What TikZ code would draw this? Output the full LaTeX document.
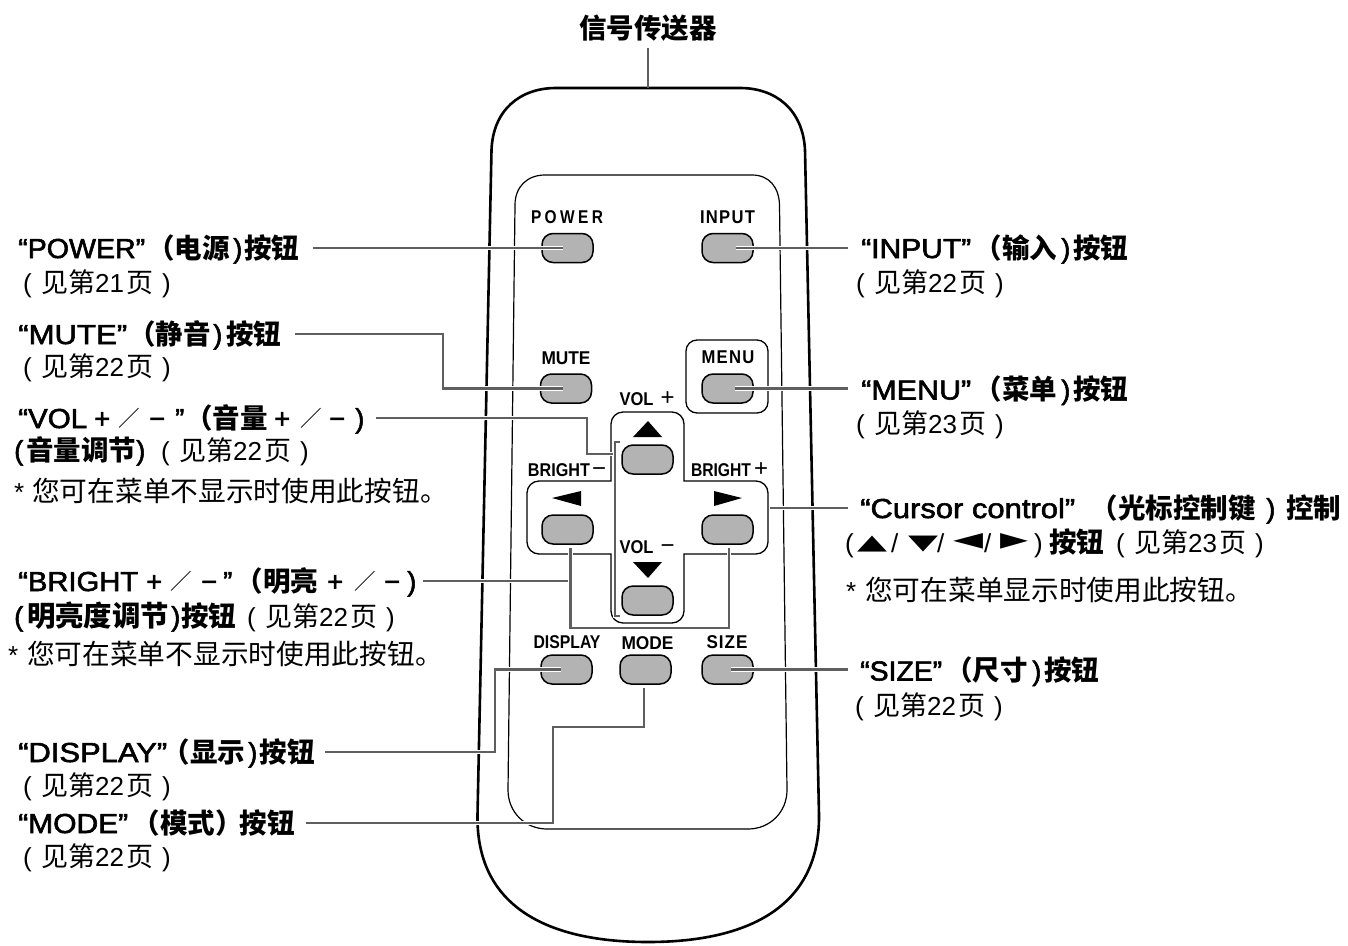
\documentclass[tikz,border=0pt]{standalone}
\usepackage{fontspec}
\setmainfont{Liberation Sans}
\newfontfamily\cjkfont{Noto Sans CJK SC}
\newfontfamily\latmed[FakeBold=2]{Liberation Sans}
\newfontfamily\latreg{Liberation Sans}
\newfontfamily\symfont{DejaVu Sans}
\newcommand{\CjB}[1]{{\cjkfont\bfseries\fontsize{27.5}{30}\selectfont #1}}
\newcommand{\CjBw}[1]{{\cjkfont\bfseries\fontsize{28.4}{30}\selectfont #1}}
\newcommand{\CjR}[1]{{\cjkfont\fontsize{27}{30}\selectfont #1}}
\newcommand{\CjN}[1]{{\cjkfont\fontsize{27.7}{30}\selectfont #1}}
\newcommand{\LtM}[1]{{\latmed\fontsize{27.5}{30}\selectfont #1}}
\newcommand{\LtR}[1]{{\latreg\fontsize{26}{30}\selectfont #1}}
\newcommand{\FitW}[2]{\resizebox{#1pt}{\height}{#2}}
\newcommand{\At}[2]{\hspace*{#1pt}\rlap{#2}\hspace*{-#1pt}}
\newcommand{\Lay}[2]{\makebox[#1pt][l]{#2}}
\newcommand{\SyT}[3]{\raisebox{#2pt}{\resizebox*{#1pt}{16pt}{{\symfont\fontsize{26}{30}\selectfont #3}}}}
\newcommand{\PgRef}[1]{\Lay{146}{\At{0}{\LtR{(}}\At{18}{\CjR{见第}}\At{72}{\LtR{#1}}\At{103}{\CjR{页}}\At{139}{\LtR{)}}}}
\newcommand{\Minus}{\LtM{−}}
\newcommand{\Plus}{\LtM{+}}
\newcommand{\Slash}{\raisebox{1.5pt}{\scalebox{0.8}{\CjR{／}}}}
\definecolor{btngray}{HTML}{B3B3B3}
\definecolor{leadgray}{HTML}{5F5F5F}
\tikzset{
  body/.style={draw=black,line width=2.6pt},
  panel/.style={draw=black,line width=1.2pt},
  frame/.style={draw=black,line width=1.3pt},
  btn/.style={draw=black,fill=btngray,line width=1.5pt,rectangle,rounded corners=11pt,minimum width=51pt,minimum height=29pt,inner sep=0pt},
  tri/.style={fill=black,draw=none},
  lbl/.style={anchor=west,inner sep=0pt,text height=24pt,text depth=4pt},
  keytxt/.style={inner sep=0pt,font=\bfseries\fontsize{18.5}{20}\selectfont},
  leader/.style={draw=leadgray,line width=2.5pt,line join=miter,preaction={draw=white,line width=4.5pt,line cap=square}},
  thinlead/.style={draw=leadgray,line width=2.6pt}
}
\begin{document}
\begin{tikzpicture}[x=1pt,y=-1pt]
\useasboundingbox[fill=white] (0,0) rectangle (1348,945);
% remote body
\draw[body] (491.5,150) .. controls (493,110) and (520,88) .. (556,88) -- (740,88)
  .. controls (776,88) and (803,110) .. (805,150) -- (819,815)
  .. controls (820,905) and (751,942) .. (648,942)
  .. controls (545,942) and (476,905) .. (477.5,815) -- cycle;
% inner panel
\draw[panel] (515,205) .. controls (515,187) and (527,175) .. (545,175) -- (752,175)
  .. controls (769,175) and (779,187) .. (779.5,205) -- (787,790)
  .. controls (787,812) and (770,829) .. (748,829) -- (547,829)
  .. controls (525,829) and (508,812) .. (508,790) -- cycle;
% frames
\draw[frame,rounded corners=11pt] (686,340) rectangle (768,413);
\draw[frame] (611,481) [rounded corners=12pt] -- (611,412) -- (684,412) [sharp corners] -- (684,481)
  [rounded corners=12pt] -- (768,481) -- (768,554) [sharp corners] -- (684,554)
  [rounded corners=12pt] -- (684,623) -- (611,623) [sharp corners] -- (611,554)
  [rounded corners=12pt] -- (527,554) -- (527,481) [sharp corners] -- cycle;
% buttons
\node[btn] (bPower) at (567.5,248) {};
\node[btn] (bInput) at (727.5,248) {};
\node[btn] (bMute) at (566,388.5) {};
\node[btn] (bMenu) at (727.5,388.5) {};
\node[btn] (bVolUp) at (647.5,459.5) {};
\node[btn] (bLeft) at (567.5,529.5) {};
\node[btn] (bRight) at (727.5,529.5) {};
\node[btn] (bVolDn) at (647.5,600.5) {};
\node[btn] (bDisplay) at (566.5,669.5) {};
\node[btn] (bMode) at (645.5,669.5) {};
\node[btn] (bSize) at (727.5,669.5) {};
% triangles
\fill[tri] (633,437) -- (662,437) -- (648,421) -- cycle;
\fill[tri] (552,498) -- (581,491) -- (581,506) -- cycle;
\fill[tri] (714,491) -- (714,506) -- (742,498) -- cycle;
\fill[tri] (633,562) -- (662,562) -- (648,578) -- cycle;
% key legends
\node[keytxt] (kPower) at (567,217) {\FitW{72}{\addfontfeature{LetterSpace=22}POWER}};
\node[keytxt] (kInput) at (727.5,217) {\FitW{55}{\addfontfeature{LetterSpace=8}INPUT}};
\node[keytxt] (kMute) at (566,358) {\FitW{49}{MUTE}};
\node[keytxt] (kMenu) at (728,357) {\FitW{53}{\addfontfeature{LetterSpace=8}MENU}};
\node[keytxt] (kVolP) at (647,399) {\FitW{34}{VOL}\hspace{7pt}{\normalfont\fontsize{24}{20}\selectfont +}};
\node[keytxt] (kBrM) at (567,470) {\FitW{62}{BRIGHT}\hspace{2pt}{\normalfont\fontsize{24}{20}\selectfont −}};
\node[keytxt] (kBrP) at (729.5,470) {\FitW{60}{BRIGHT}\hspace{3pt}{\normalfont\fontsize{24}{20}\selectfont +}};
\node[keytxt] (kVolM) at (647,547) {\FitW{34}{VOL}\hspace{7pt}{\normalfont\fontsize{24}{20}\selectfont −}};
\node[keytxt] (kDisplay) at (567,642) {\FitW{67}{DISPLAY}};
\node[keytxt] (kMode) at (647.5,643) {\FitW{52}{MODE}};
\node[keytxt] (kSize) at (727,642) {\FitW{41}{\addfontfeature{LetterSpace=6}SIZE}};
% top label
\node[inner sep=0pt] (lTop) at (648,28) {\CjB{信号传送器}};
% left labels
\node[lbl] (lPower) at (18,248) {\Lay{280}{\At{0}{\FitW{127}{\LtM{“POWER”}}}\At{129}{\CjB{（电源}}\At{215}{\LtM{)}}\At{226}{\CjB{按钮}}}};
\node[lbl] (rPower) at (23,282) {\PgRef{21}};
\node[lbl] (lMute) at (18,334) {\Lay{261}{\At{0}{\FitW{109}{\LtM{“MUTE”}}}\At{110}{\CjB{（静音}}\At{195}{\LtM{)}}\At{208}{\CjB{按钮}}}};
\node[lbl] (rMute) at (23,366) {\PgRef{22}};
\node[lbl] (lVol) at (18,418) {\Lay{344}{\At{0}{\FitW{69}{\LtM{“VOL}}}\At{76}{\Plus}\At{100}{\Slash}\At{131}{\Minus}\At{157}{\LtM{”}}\At{167}{\CjB{（音量}}\At{256}{\Plus}\At{282}{\Slash}\At{311}{\Minus}\At{337}{\LtM{)}}}};
\node[lbl] (rVol) at (14,450) {\Lay{296}{\At{0}{\LtM{(}}\At{12}{\CjB{音量调节}}\At{122}{\LtM{)}}\At{147}{\PgRef{22}}}};
\node[lbl] (nVol) at (14,491) {\Lay{418}{\At{0}{\LtR{*}}\At{18}{\CjN{您可在菜单不显示时使用此按钮。}}}};
\node[lbl] (lBright) at (18,581) {\Lay{397}{\At{0}{\FitW{120}{\LtM{“BRIGHT}}}\At{128}{\Plus}\At{152}{\Slash}\At{183}{\Minus}\At{205}{\LtM{”}}\At{217.5}{\CjB{（明亮}}\At{309}{\Plus}\At{336}{\Slash}\At{366}{\Minus}\At{389}{\LtM{)}}}};
\node[lbl] (rBright) at (14,616) {\Lay{380}{\At{0}{\LtM{(}}\At{13}{\CjBw{明亮度调节}}\At{157}{\LtM{)}}\At{167}{\CjB{按钮}}\At{233}{\PgRef{22}}}};
\node[lbl] (nBright) at (8,654) {\Lay{420}{\At{0}{\LtR{*}}\At{19}{\CjN{您可在菜单不显示时使用此按钮。}}}};
\node[lbl] (lDisplay) at (18,752) {\Lay{295}{\At{0}{\FitW{149}{\LtM{“DISPLAY”}}}\At{144.5}{\CjB{（显示}}\At{230}{\LtM{)}}\At{241.5}{\CjB{按钮}}}};
\node[lbl] (rDisplay) at (23,785) {\PgRef{22}};
\node[lbl] (lMode) at (18,823) {\Lay{276}{\At{0}{\FitW{110}{\LtM{“MODE”}}}\At{114.5}{\CjB{（模式）}}\At{221.5}{\CjB{按钮}}}};
\node[lbl] (rMode) at (23,856) {\PgRef{22}};
% right labels
\node[lbl] (lInput) at (861,248) {\Lay{266}{\At{0}{\FitW{110}{\LtM{“INPUT”}}}\At{113.5}{\CjB{（输入}}\At{200}{\LtM{)}}\At{212}{\CjB{按钮}}}};
\node[lbl] (rInput) at (856,282) {\PgRef{22}};
\node[lbl] (lMenu) at (861,389.5) {\Lay{266}{\At{0}{\FitW{110}{\LtM{“MENU”}}}\At{113.5}{\CjB{（菜单}}\At{200}{\LtM{)}}\At{212}{\CjB{按钮}}}};
\node[lbl] (rMenu) at (856,423) {\PgRef{23}};
\node[lbl] (lCursor) at (860,508) {\Lay{480}{\At{0}{\FitW{215}{\LtM{“Cursor control”}}}\At{230.5}{\CjB{（光标控制键}}\At{406}{\LtM{)}}\At{426}{\CjB{控制}}}};
\node[lbl] (rCursor) at (845,542) {\Lay{418}{\At{0}{\LtR{(}}\At{12}{\SyT{30}{3}{▲}}\At{46}{\LtR{/}}\At{63}{\SyT{30}{3}{▼}}\At{92}{\LtR{/}}\At{108}{\SyT{30}{3}{◄}}\At{139}{\LtR{/}}\At{155}{\SyT{28}{3}{►}}\At{189}{\LtR{)}}\At{204}{\CjB{按钮}}\At{271}{\PgRef{23}}}};
\node[lbl] (nCursor) at (846,590) {\Lay{394}{\At{0}{\LtR{*}}\At{19}{\CjN{您可在菜单显示时使用此按钮。}}}};
\node[lbl] (lSize) at (860,670.5) {\Lay{239}{\At{0}{\FitW{82}{\LtM{“SIZE”}}}\At{85}{\CjB{（尺寸}}\At{172}{\LtM{)}}\At{184}{\CjB{按钮}}}};
\node[lbl] (rSize) at (855,705) {\PgRef{22}};
% connectors
\coordinate (cTopEnd) at (648,88);
\draw[thinlead] ([yshift=-20pt]lTop.center) -- (cTopEnd);
\draw[leader] ([xshift=15pt]lPower.east) -- ([xshift=-5pt]bPower.center);
\draw[leader] ([xshift=16pt]lMute.east) -- (443,334) |- ([xshift=-3pt]bMute.center);
\draw[leader] ([xshift=14pt]lVol.east) -- (587,418) |- (615,454);
\draw[leader] (620,442) -- (615,442) -- (615,616) -- (620,616);
\draw[leader] ([xshift=8pt]lBright.east) -- (570.5,581);
\draw[leader] ([yshift=-3pt,xshift=3pt]bLeft.south) -- (570.5,628) -- (729,628) -- ([yshift=-3pt,xshift=1.5pt]bRight.south);
\draw[leader] ([xshift=12pt]lDisplay.east) -- (495,752) |- ([xshift=-5.5pt]bDisplay.center);
\draw[leader] ([xshift=12pt]lMode.east) -- (553,823) |- (644,727) -- (644,688);
\draw[leader] ([xshift=8pt]bInput.center) -- (848,248);
\draw[leader] ([xshift=7pt]bMenu.center) -- (848,388.5);
\draw[leader] (770,508) -- (848,508);
\draw[leader] ([xshift=3.5pt]bSize.center) -- (848,669.5);
\end{tikzpicture}
\end{document}
